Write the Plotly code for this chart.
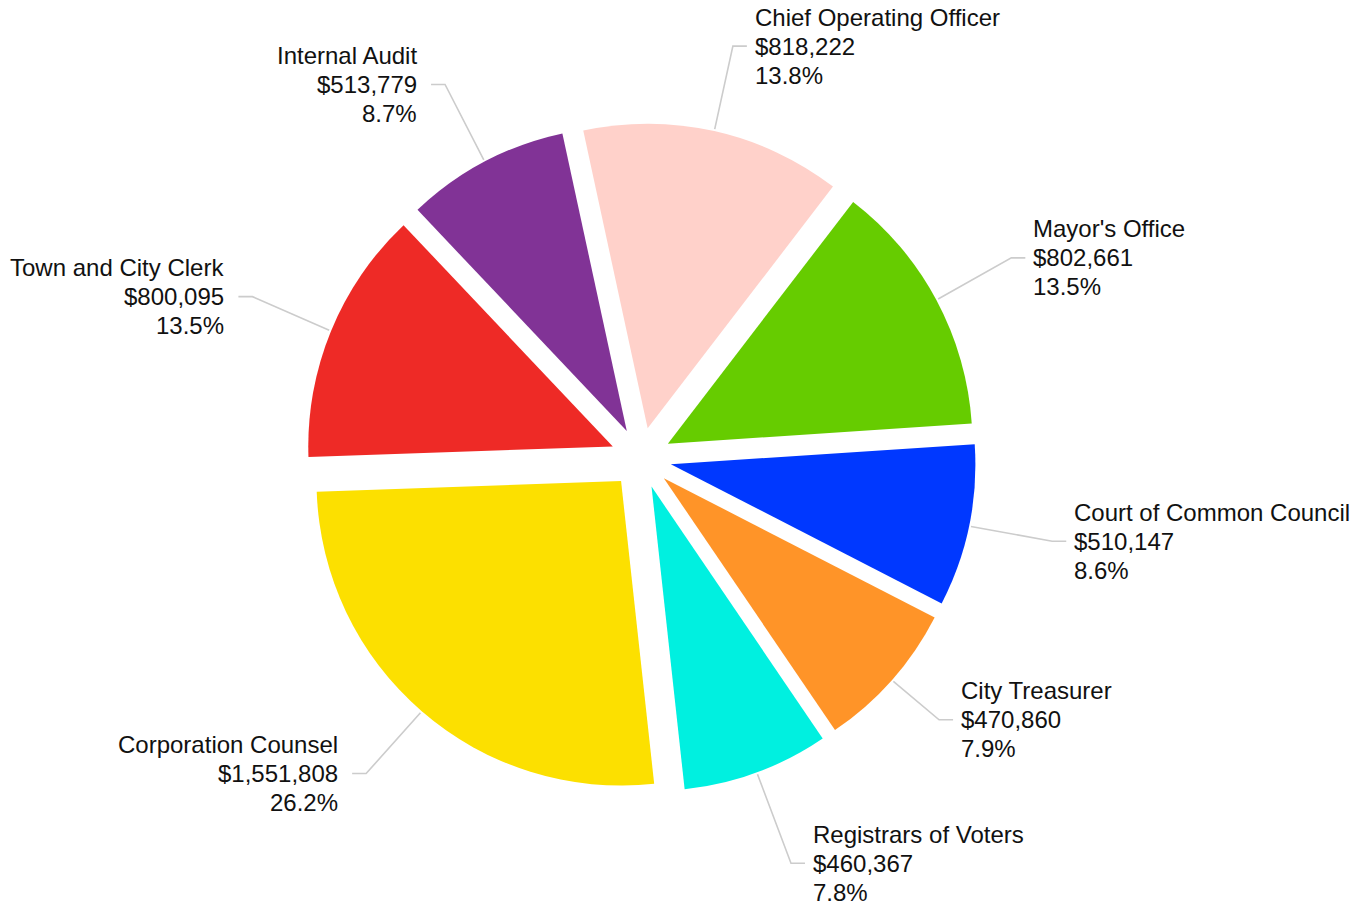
import math
import plotly.graph_objects as go

labels = ["Town and City Clerk", "Internal Audit", "Chief Operating Officer", "Mayor's Office",
          "Court of Common Council", "City Treasurer", "Registrars of Voters", "Corporation Counsel"]
values = [800095, 513779, 818222, 802661, 510147, 470860, 460367, 1551808]
colors = ["#EE2A26", "#813396", "#FFD1CA", "#66CC00", "#0038FF", "#FF9428", "#00F0E0", "#FCE000"]

W, H = 1369, 909
PULL = 0.1
ROT = -92
DOM_X = [0.22352, 0.71293]
DOM_Y = [0.12761, 0.86469]
FONT = "Arial, Liberation Sans, Helvetica, sans-serif"
# small radial nudges of the outside labels (label collision spacing)
LABEL_NUDGE = {"City Treasurer": -22, "Registrars of Voters": 14}
LABEL_DY = -2

fig = go.Figure(go.Pie(
    labels=labels, values=values, sort=False, direction="clockwise", rotation=ROT,
    pull=PULL, marker=dict(colors=colors, line=dict(width=0)),
    textinfo="none", hoverinfo="label+value+percent",
    domain=dict(x=DOM_X, y=DOM_Y), showlegend=False,
))

# geometry following plotly's pie layout
box_w = W * (DOM_X[1] - DOM_X[0])
box_h = H * (DOM_Y[1] - DOM_Y[0])
r = min(box_w, box_h) / 2 / (1 + PULL)
cx = W * (DOM_X[0] + DOM_X[1]) / 2
cy = H * (1 - DOM_Y[0]) - box_h / 2
r_out = r * (1 + PULL)

total = sum(values)
cum = 0
shapes, annos = [], []
px = lambda x: x / W
py = lambda y: 1 - y / H
for lab, v in zip(labels, values):
    mid = math.radians(ROT + 360 * (cum + v / 2) / total)
    cum += v
    dx, dy = math.sin(mid), -math.cos(mid)
    re = r_out + 85 + LABEL_NUDGE.get(lab, 0)
    x0, y0 = cx + (r_out + 2) * dx, cy + (r_out + 2) * dy
    x1, y1 = cx + re * dx, cy + re * dy + LABEL_DY
    side = 1 if dx >= 0 else -1
    x2 = x1 + 14 * side
    shapes.append(dict(type="path", xref="paper", yref="paper",
                       path=f"M {px(x0)} {py(y0)} L {px(x1)} {py(y1)} L {px(x2)} {py(y1)}",
                       line=dict(color="#CCCCCC", width=1.6)))
    tx = x2 + (6 if side > 0 else -12)
    lines = [lab, f"${v:,.0f}", f"{100 * v / total:.1f}%"]
    for k, t in enumerate(lines):
        annos.append(dict(x=px(tx), y=py(y1 + (k - 1) * 29), xref="paper", yref="paper",
                          text=t, showarrow=False, xanchor="left" if side > 0 else "right",
                          yanchor="middle", font=dict(family=FONT, size=24, color="#111111")))

fig.update_layout(width=W, height=H, margin=dict(l=0, r=0, t=0, b=0),
                  paper_bgcolor="white", plot_bgcolor="white",
                  shapes=shapes, annotations=annos)
fig.write_html("out.html", config={"displayModeBar": False},
               post_script="document.body.style.margin='0px';")
